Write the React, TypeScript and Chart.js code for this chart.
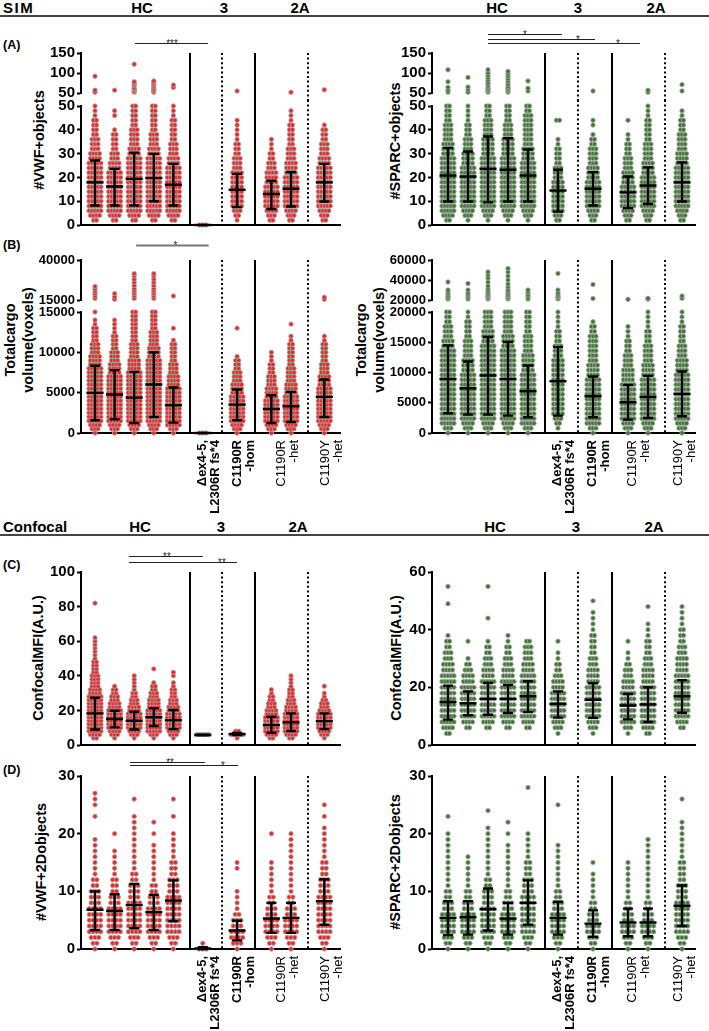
import React, { useEffect, useRef } from "react";
import { Chart, registerables } from "chart.js";

Chart.register(...registerables);

const FONT = "'Liberation Sans', Arial, Helvetica, sans-serif";
Chart.defaults.font.family = FONT;
const RED = "rgb(238, 38, 38)";
const GREEN = "rgb(58, 120, 46)";
const RIM = "rgba(165, 165, 165, 0.95)";

// ---------------- categories & labels ----------------
const categories = ["HC1", "HC2", "HC3", "HC4", "HC5", "Δex4-5, L2306R fs*4", "C1190R -hom", "C1190R -het a", "C1190R -het b", "C1190Y -het"];
const xTickLabels: string[][] = [["Δex4-5,", "L2306R fs*4"], ["C1190R", "-hom"], ["C1190R", "-het"], ["C1190Y", "-het"]];
const xTickBold = [true, true, false, false];
const groupHeaders = ["HC", "3", "2A"];

// ---------------- SIM: #VWF+ objects (counts of dots per 2-unit bin, from 0) ----------------
const simObjStep = 2;
const simVwfObjBins = [
  [0,2,4,5,5,5,5,5,5,5,5,5,5,5,4,4,3,3,3,2,2,2,2,1,1,1],
  [0,2,4,5,5,5,5,5,5,5,5,5,4,4,3,3,2,2,2,2,1,0,0,1,1],
  [0,2,4,5,5,5,5,5,5,5,5,5,5,5,5,4,4,3,3,3,3,2,2,2,2,2],
  [0,2,4,5,5,5,5,5,5,5,5,5,5,5,5,4,4,3,3,3,2,2,2,2,2,2],
  [0,2,4,5,5,5,5,5,5,5,5,5,5,4,4,3,3,3,2,2,2,2,2,1,1,1],
  [3],
  [0,1,2,3,4,4,4,4,4,4,4,4,3,3,3,2,2,2,1,1,1,1,1],
  [0,2,3,4,5,5,5,5,5,4,4,4,3,3,2,2,1,1,1],
  [0,2,3,4,5,5,5,5,5,5,5,4,4,4,3,3,3,2,2,2,2,2,1,1,1],
  [0,2,3,4,5,5,5,5,5,5,5,5,5,4,4,3,3,3,2,2,2,1],
];
const simVwfObjHigh = [[52,57,92],[57],[52,54,57,60,63,68,72,75,78,122],[52,55,58,62,66,70,73,77,80],[64,70],[],[55],[],[52],[58]];
const simVwfObjMean = [17.9,16.2,19.4,19.7,16.9,0,14.8,13.0,15.2,17.9];
const simVwfObjHi = [27.1,23.6,30.4,29.9,25.7,0,21.5,18.6,22.3,25.7];
const simVwfObjLo = [8.2,8.2,8.2,10.0,8.2,0,7.5,6.7,7.8,9.9];

// ---------------- SIM: #SPARC+ objects ----------------
const simSparcObjBins = [
  [0,2,4,5,5,5,5,5,5,5,5,5,5,5,5,4,4,4,3,3,3,3,2,2,2,2],
  [0,1,3,4,5,5,5,5,5,5,5,5,5,4,4,4,3,3,3,2,2,2,1,1,1,1],
  [0,1,3,4,5,5,5,5,5,5,5,5,5,5,5,4,4,4,4,3,3,3,3,2,2,2],
  [0,1,3,4,5,5,5,5,5,5,5,5,5,5,5,4,4,4,4,3,3,3,2,2,2,2],
  [0,1,3,4,5,5,5,5,5,5,5,5,5,5,4,4,4,3,3,3,3,3,3,3,2,2],
  [0,2,3,4,4,4,4,4,4,4,3,3,3,2,2,2,2,1,1,0,0,0,2],
  [0,2,3,4,5,5,5,5,5,5,4,4,4,3,3,3,3,2,2,1,0,1,1],
  [0,2,3,4,5,5,5,5,5,4,4,4,3,3,3,2,2,2,1,1,0,0,1],
  [0,2,3,4,5,5,5,5,5,5,5,4,4,4,3,3,3,3,2,2,2,2,2,1,1,1],
  [0,2,3,4,5,5,5,5,5,5,5,5,5,4,4,4,3,3,3,3,2,2,2,1,1],
];
const simSparcObjHigh = [[52,57,64,78,108],[52,58,65,89],[52,55,58,62,66,70,75,82,88,94,100,108],[52,55,58,62,66,72,78,85,92,98,104],[55,62,80],[],[55],[],[52,57],[55,71]];
const simSparcObjMean = [20.8,20.4,23.5,23.2,20.8,14.5,15.2,13.7,16.6,17.9];
const simSparcObjHi = [32.4,30.9,37.2,36.5,31.7,23.2,22.2,20.4,24.2,26.3];
const simSparcObjLo = [9.9,9.9,9.5,9.9,9.9,5.6,8.2,7.1,8.8,9.9];

// ---------------- SIM: VWF total cargo volume (500-voxel bins) ----------------
const simVwfVolStep = 500;
const simVwfVolBins = [
  [1,3,4,5,5,5,5,5,5,5,5,5,5,5,5,5,5,4,4,4,3,3,3,2,2,2,2,1,1,0,1],
  [1,3,4,5,5,5,5,5,5,5,5,5,5,5,5,4,4,4,3,3,3,2,2,2,2,1,1,1,1],
  [1,3,4,5,5,5,5,5,5,5,5,5,5,5,5,5,4,4,4,3,3,3,3,2,2,2,2,2,2,2,2],
  [1,3,4,5,5,5,5,5,5,5,5,5,5,5,5,5,5,5,5,4,4,4,3,3,3,3,2,2,2,2,2],
  [1,3,5,5,5,5,5,5,5,5,5,5,4,4,4,3,3,3,2,2,2,2,2,1,0,0,1],
  [3],
  [1,3,4,5,5,5,5,5,5,5,4,4,4,3,3,3,2,2,2,1,0,0,0,0,0,0,1],
  [1,3,4,5,5,5,5,5,5,4,4,4,3,3,3,2,2,2,1,1,1],
  [1,3,4,5,5,5,5,5,5,5,4,4,4,3,3,3,3,2,2,2,2,2,2,1,1,0,0,1],
  [1,3,4,5,5,5,5,5,5,5,5,5,4,4,4,3,3,3,2,2,2,2,2,1,1],
];
const simVwfVolHigh = [
  [16000,17500,19000,20500,22000,23500],
  [15500,17000,19000],
  [16000,17500,19000,20500,22000,24000,26000,28000,30000,31500],
  [16000,17500,19000,20500,22000,24000,26000,28000,30000,31500],
  [17500],[],[],[],[],[15400,16700],
];
const simVwfVolMean = [4970,4770,4390,6010,3440,0,3520,2980,3320,4480];
const simVwfVolHi = [8330,7790,7580,9990,5640,0,5390,4680,5100,6630];
const simVwfVolLo = [1575,1700,1240,1990,1280,0,1575,1240,1370,1990];

// ---------------- SIM: SPARC total cargo volume (800-voxel bins) ----------------
const simSparcVolStep = 800;
const simSparcVolBins = [
  [1,3,5,5,5,5,5,5,5,5,5,5,5,5,5,5,5,5,4,4,3,3,3,2,2,2],
  [1,3,4,5,5,5,5,5,5,5,5,5,5,4,4,4,3,3,3,3,2,2,2,2,1,1],
  [1,3,4,5,5,5,5,5,5,5,5,5,5,5,5,5,5,5,5,4,4,4,3,3,3,3],
  [1,3,4,5,5,5,5,5,5,5,5,5,5,5,5,5,5,5,4,4,4,3,3,3,3,3],
  [1,3,5,5,5,5,5,5,5,5,5,5,5,4,4,4,4,3,3,3,3,2,2,2,2,2],
  [0,1,2,3,4,4,4,4,4,4,4,4,4,4,4,4,3,3,3,2,2,2,1,1,1,1],
  [1,3,5,5,5,5,5,5,5,5,5,5,4,4,4,3,3,3,3,3,3,2,2,1],
  [1,3,4,5,5,5,5,5,5,5,5,4,4,4,3,3,3,2,2,2,1,1,1],
  [1,3,4,5,5,5,5,5,5,5,5,5,4,4,4,3,3,3,3,2,2,2,1,1,1,1],
  [1,3,4,5,5,5,5,5,5,5,5,5,5,4,4,4,3,3,3,2,2,2,2,1,1,1],
];
const simSparcVolHigh = [
  [21000,22500,24000,26000,28000,30000,38000],
  [21000,23000,25000,27000,30000,36500],
  [21000,22000,23000,24000,25500,27000,29000,31000,34000,38000,42000,45000,48000],
  [21000,22000,23000,24500,26000,28000,30000,33000,36000,40000,44000,48000,51500],
  [21000,23000,25000,27500,30000],
  [21000,22000,23500,25000,27000,30000,46500],
  [21500,35500],[20700],[20700,21700],[21700,24000],
];
const simSparcVolMean = [8950,7400,9500,8950,6900,8560,6080,5080,5970,6460];
const simSparcVolHi = [14480,11820,15860,15030,11160,14200,9340,7960,9450,10170];
const simSparcVolLo = [3260,3040,3040,2870,2600,2870,2600,2210,2490,2760];

// ---------------- Confocal: VWF MFI (2-unit bins) ----------------
const confMfiStep = 2;
const confVwfMfiBins = [
  [0,0,2,4,5,5,5,5,5,5,5,5,5,5,5,4,4,3,3,3,3,2,2,2,2,1,1,1,1,1,1,1],
  [0,0,1,3,4,5,5,5,5,5,5,4,4,3,3,2,2,1],
  [0,0,1,3,4,5,5,5,5,5,4,4,3,3,2,2,1,1,1,1,1],
  [0,0,1,3,5,5,5,5,5,5,5,4,4,4,3,3,2,2,1,0,0,0,1],
  [0,0,1,3,4,5,5,5,5,5,4,4,3,3,2,2,2,1,1,0,1,1],
  [0,0,0,5],
  [0,0,1,5,2],
  [0,0,2,4,5,5,5,5,5,4,4,3,3,2,2,1,1],
  [0,0,2,4,5,5,5,5,5,5,4,4,3,3,2,2,2,1,1,1,1],
  [0,0,1,3,4,5,5,5,5,5,4,3,3,2,1,1,0,1],
];
const confVwfMfiExtra = [[82],[],[],[],[],[],[],[],[],[]];
const confVwfMfiMean = [18.3,15.0,14.0,16.0,14.4,5.8,6.3,11.5,13.1,13.8];
const confVwfMfiHi = [27.3,19.8,19.2,21.2,20.2,6.0,6.9,16.3,18.3,18.3];
const confVwfMfiLo = [9.0,10.2,9.0,11.0,9.2,5.6,5.8,7.1,8.1,9.2];

// ---------------- Confocal: SPARC MFI ----------------
const confSparcMfiBins = [
  [0,0,2,4,5,5,5,5,5,5,5,5,5,4,4,3,3,2,2,1],
  [0,0,0,2,4,5,5,5,5,5,5,4,4,3,2,1,0,0,1],
  [0,0,0,2,4,5,5,5,5,5,5,5,4,4,3,3,2,2,1],
  [0,0,0,2,4,5,5,5,5,5,5,5,4,4,3,3,2,2,1,1],
  [0,0,0,2,4,5,5,5,5,5,5,5,5,4,4,3,3,3,2],
  [0,0,1,3,4,5,5,5,5,5,4,4,3,2,2,1,1,0,1],
  [0,0,1,3,4,5,5,5,5,5,5,4,4,4,3,3,2,2,2,2,1,1,1,1,0,1],
  [0,0,1,3,5,5,5,5,5,5,4,4,3,3,2,1,1,0,1],
  [0,0,2,4,5,5,5,5,5,5,5,4,4,4,3,3,2,2,2,1,1,1,0,0,1],
  [0,0,0,2,4,5,5,5,5,5,5,5,5,4,4,4,3,3,2,2,2,1,1,1,1],
];
const confSparcMfiExtra = [[49,55],[],[44,55],[],[],[],[],[],[],[]];
const confSparcMfiMean = [14.9,14.5,16.0,16.0,16.9,14.3,15.7,13.7,14.1,16.9];
const confSparcMfiHi = [20.6,18.6,21.5,20.8,22.1,18.6,21.4,17.7,20.0,22.5];
const confSparcMfiLo = [8.8,10.3,10.5,11.1,11.4,9.5,9.4,8.9,8.0,11.2];

// ---------------- Confocal: #VWF+ 2D objects (one bin per integer) ----------------
const conf2dStep = 1;
const confVwf2dBins = [
  [1,2,3,4,4,4,4,4,3,3,3,2,2,1,1,1,1,1,1,1,0,0,0,1,0,1,1,1],
  [1,2,3,4,4,4,4,4,3,3,2,2,2,1,1,1,1,1,0,0,1],
  [1,2,3,4,4,4,4,4,4,3,3,3,2,2,1,1,1,1,1,1,1,1,1,1,0,0,1],
  [1,2,3,4,4,4,4,4,3,3,2,2,1,1,1,1,1,1,1,0,1,0,1],
  [1,2,3,4,4,4,4,4,4,4,3,3,3,2,2,2,1,1,1,1,1,0,0,1,0,0,1],
  [3,1],
  [1,3,4,4,3,3,2,1,1,1,1,0,0,0,1,1],
  [1,2,3,4,4,4,3,3,2,2,1,1,1,1,1,1,0,0,0,0,1],
  [1,2,3,4,4,4,3,3,2,2,1,1,1,1,1,1,1,1,1,1,1],
  [1,2,3,4,4,4,4,4,4,4,3,3,3,2,2,2,1,1,1,1,1,1,0,1,0,1],
];
const confVwf2dMean = [6.8,6.6,7.6,6.4,8.4,0.1,3.2,5.3,5.4,8.3];
const confVwf2dHi = [10.0,9.5,11.3,9.4,11.9,0.3,4.9,8.0,8.0,12.1];
const confVwf2dLo = [3.3,3.3,3.6,3.3,4.8,0,1.5,2.8,2.8,4.2];

// ---------------- Confocal: #SPARC+ 2D objects ----------------
const confSparc2dBins = [
  [1,2,3,4,4,4,4,3,3,2,2,1,1,1,1,1,1,1,1,1,1,0,0,1],
  [1,2,3,4,4,4,4,3,3,2,2,1,1,1,1,1,1],
  [1,2,3,4,4,4,4,4,3,3,3,2,2,1,1,1,1,1,1,1,1,1,0,0,1],
  [1,2,3,4,4,4,4,3,3,2,2,1,1,1,1,1,1,1,1,0,1,0,1],
  [1,2,3,4,4,4,4,4,4,4,3,3,3,2,2,2,1,1,1,1,1,0,0,0,0,0,0,0,1],
  [1,2,3,4,4,4,4,3,3,2,2,1,1,1,1,1,1,1,1,0,0,0,0,0,0,1],
  [1,2,3,4,4,3,3,2,2,1,1,1,1,1,0,1],
  [1,2,3,4,4,3,3,2,2,1,1,1,1,1,1,1],
  [1,2,3,4,4,3,3,2,2,1,1,1,1,1,1,1,1,1,1,1],
  [1,2,3,4,4,4,4,4,4,3,3,3,2,2,2,2,1,1,1,1,1,1,1,0,0,0,1],
];
const confSparc2dMean = [5.4,5.5,6.9,5.3,8.0,5.4,4.4,4.6,4.6,7.5];
const confSparc2dHi = [8.3,8.3,10.5,8.0,11.9,8.2,6.7,7.0,7.0,11.0];
const confSparc2dLo = [2.4,2.5,3.2,2.5,4.2,2.5,2.1,2.2,2.2,4.0];

// ---------------- layout (positions only) ----------------
const catPos = [1, 2, 3, 4, 5, 6.5, 8.25, 10, 11, 12.7];
const solidDividers = [5.85, 9.18];
const dottedDividers = [7.5, 11.85];

const COL_L = { left: 0, width: 350, axisX: 81, plotRight: 340, xMin: 0.286, xMax: 13.5, labelTicks: [6.5, 8.25, 10.5, 12.75] };
const COL_R = { left: 350, width: 359, axisX: 432, plotRight: 695, xMin: 0.2, xMax: 13.35, labelTicks: [6.45, 8.2, 10.2, 12.5] };

const ROW_A_TOP = { top: 25, plotTop: 53, plotBottom: 93, bottom: 100, x: "none" };
const ROW_A_BOT = { top: 100, plotTop: 106, plotBottom: 225, bottom: 232, x: "line" };
const ROW_B_TOP = { top: 232, plotTop: 260, plotBottom: 300, bottom: 306, x: "none" };
const ROW_B_BOT = { top: 306, plotTop: 312, plotBottom: 433, bottom: 535, x: "labels" };
const ROW_C = { top: 545, plotTop: 572, plotBottom: 745, bottom: 752, x: "line" };
const ROW_D = { top: 748, plotTop: 776, plotBottom: 949, bottom: 1031, x: "labels" };

const unitPx = (col: any) => (col.plotRight - col.axisX) / (col.xMax - col.xMin);

function swarmPoints(bins: number[][], step: number, dxPx: number, col: any, extra?: number[][]) {
  const dx = dxPx / unitPx(col);
  const pts: { x: number; y: number }[] = [];
  bins.forEach((counts, c) => {
    counts.forEach((n, i) => {
      for (let k = 0; k < n; k++) pts.push({ x: catPos[c] + (k - (n - 1) / 2) * dx, y: i * step });
    });
    if (extra) extra[c].forEach((v) => pts.push({ x: catPos[c], y: v }));
  });
  return pts;
}
function highPoints(high: number[][]) {
  const pts: { x: number; y: number }[] = [];
  high.forEach((vals, c) => vals.forEach((v) => pts.push({ x: catPos[c], y: v })));
  return pts;
}
const range = (a: number, b: number, s: number) => {
  const out: number[] = [];
  for (let v = a; v <= b + 1e-9; v += s) out.push(v);
  return out;
};

type Sig = { from: number; to: number; star: number; off: number; text: string; color?: string; width?: number };
type Spec = {
  id: string; col: any; row: any; yMin: number; yMax: number; yTicks: number[]; tickSize?: number;
  points: { x: number; y: number }[]; color: string;
  err?: { mean: number[]; lo: number[]; hi: number[] };
  extendTop?: boolean; extendBottom?: boolean; sig?: Sig[];
};

const specs: Spec[] = [
  // A left
  { id: "AL1", col: COL_L, row: ROW_A_TOP, yMin: 50, yMax: 150, yTicks: [50, 100, 150], color: RED,
    points: highPoints(simVwfObjHigh), extendBottom: true,
    sig: [{ from: 3.04, to: 6.77, star: 4.93, off: 10, text: "***" }] },
  { id: "AL2", col: COL_L, row: ROW_A_BOT, yMin: 0, yMax: 50, yTicks: range(0, 50, 10), color: RED,
    points: swarmPoints(simVwfObjBins, simObjStep, 3, COL_L), extendTop: true,
    err: { mean: simVwfObjMean, lo: simVwfObjLo, hi: simVwfObjHi } },
  // A right
  { id: "AR1", col: COL_R, row: ROW_A_TOP, yMin: 50, yMax: 150, yTicks: [50, 100, 150], color: GREEN,
    points: highPoints(simSparcObjHigh), extendBottom: true,
    sig: [
      { from: 3.0, to: 6.7, star: 4.85, off: 19, text: "*" },
      { from: 3.0, to: 8.35, star: 7.5, off: 14, text: "*" },
      { from: 3.0, to: 10.6, star: 9.5, off: 10, text: "*" },
    ] },
  { id: "AR2", col: COL_R, row: ROW_A_BOT, yMin: 0, yMax: 50, yTicks: range(0, 50, 10), color: GREEN,
    points: swarmPoints(simSparcObjBins, simObjStep, 3, COL_R), extendTop: true,
    err: { mean: simSparcObjMean, lo: simSparcObjLo, hi: simSparcObjHi } },
  // B left
  { id: "BL1", col: COL_L, row: ROW_B_TOP, yMin: 15000, yMax: 40000, yTicks: [15000, 40000], tickSize: 13, color: RED,
    points: highPoints(simVwfVolHigh), extendBottom: true,
    sig: [{ from: 3.1, to: 6.8, star: 5.1, off: 15, text: "*", color: "#777", width: 2 }] },
  { id: "BL2", col: COL_L, row: ROW_B_BOT, yMin: 0, yMax: 15000, yTicks: range(0, 15000, 5000), tickSize: 13, color: RED,
    points: swarmPoints(simVwfVolBins, simVwfVolStep, 3, COL_L), extendTop: true,
    err: { mean: simVwfVolMean, lo: simVwfVolLo, hi: simVwfVolHi } },
  // B right
  { id: "BR1", col: COL_R, row: ROW_B_TOP, yMin: 20000, yMax: 60000, yTicks: [20000, 40000, 60000], tickSize: 13, color: GREEN,
    points: highPoints(simSparcVolHigh), extendBottom: true },
  { id: "BR2", col: COL_R, row: ROW_B_BOT, yMin: 0, yMax: 20000, yTicks: range(0, 20000, 5000), tickSize: 13, color: GREEN,
    points: swarmPoints(simSparcVolBins, simSparcVolStep, 3, COL_R), extendTop: true,
    err: { mean: simSparcVolMean, lo: simSparcVolLo, hi: simSparcVolHi } },
  // C
  { id: "CL", col: COL_L, row: ROW_C, yMin: 0, yMax: 100, yTicks: range(0, 100, 20), color: RED,
    points: swarmPoints(confVwfMfiBins, confMfiStep, 3, COL_L, confVwfMfiExtra),
    err: { mean: confVwfMfiMean, lo: confVwfMfiLo, hi: confVwfMfiHi },
    sig: [
      { from: 2.73, to: 6.5, star: 4.67, off: 16, text: "**" },
      { from: 2.73, to: 8.24, star: 7.48, off: 10, text: "**" },
    ] },
  { id: "CR", col: COL_R, row: ROW_C, yMin: 0, yMax: 60, yTicks: range(0, 60, 20), color: GREEN,
    points: swarmPoints(confSparcMfiBins, confMfiStep, 3, COL_R, confSparcMfiExtra),
    err: { mean: confSparcMfiMean, lo: confSparcMfiLo, hi: confSparcMfiHi } },
  // D
  { id: "DL", col: COL_L, row: ROW_D, yMin: 0, yMax: 30, yTicks: range(0, 30, 10), color: RED,
    points: swarmPoints(confVwf2dBins, conf2dStep, 3.8, COL_L),
    err: { mean: confVwf2dMean, lo: confVwf2dLo, hi: confVwf2dHi },
    sig: [
      { from: 2.79, to: 6.6, star: 4.83, off: 14, text: "**" },
      { from: 2.79, to: 8.3, star: 7.53, off: 11, text: "*" },
    ] },
  { id: "DR", col: COL_R, row: ROW_D, yMin: 0, yMax: 30, yTicks: range(0, 30, 10), color: GREEN,
    points: swarmPoints(confSparc2dBins, conf2dStep, 3.8, COL_R),
    err: { mean: confSparc2dMean, lo: confSparc2dLo, hi: confSparc2dHi } },
];

function buildConfig(spec: Spec): any {
  const { col, row } = spec;
  const xH = row.x === "labels" ? row.bottom - row.plotBottom : row.x === "line" ? 2 : 0;
  const padTop = row.plotTop - row.top;
  const padBottom = row.bottom - row.plotBottom - xH;
  const yW = col.axisX - col.left;
  const padRight = col.left + col.width - col.plotRight;

  const overlay = {
    id: "overlay" + spec.id,
    beforeDatasetsDraw(chart: any) {
      const { ctx, chartArea: ca } = chart;
      const xs = chart.scales.x;
      const top = spec.extendTop ? 0 : ca.top;
      const bottom = spec.extendBottom ? chart.height : ca.bottom;
      ctx.save();
      ctx.strokeStyle = "#000";
      ctx.lineWidth = 2;
      solidDividers.forEach((v) => {
        const x = Math.round(xs.getPixelForValue(v));
        ctx.beginPath(); ctx.moveTo(x, top); ctx.lineTo(x, bottom); ctx.stroke();
      });
      ctx.setLineDash([2, 2.6]);
      dottedDividers.forEach((v) => {
        const x = Math.round(xs.getPixelForValue(v));
        ctx.beginPath(); ctx.moveTo(x, top); ctx.lineTo(x, bottom); ctx.stroke();
      });
      ctx.restore();
    },
    afterDatasetsDraw(chart: any) {
      if (!spec.err) return;
      const { ctx } = chart;
      const xs = chart.scales.x, ys = chart.scales.y;
      ctx.save();
      ctx.strokeStyle = "#000";
      ctx.lineWidth = 2.4;
      spec.err.mean.forEach((m, i) => {
        const x = xs.getPixelForValue(catPos[i]);
        const ym = ys.getPixelForValue(m);
        const yl = ys.getPixelForValue(spec.err!.lo[i]);
        const yh = ys.getPixelForValue(spec.err!.hi[i]);
        ctx.beginPath();
        ctx.moveTo(x, yh); ctx.lineTo(x, yl);
        ctx.moveTo(x - 5, yh); ctx.lineTo(x + 5, yh);
        ctx.moveTo(x - 5, yl); ctx.lineTo(x + 5, yl);
        ctx.moveTo(x - 8.5, ym); ctx.lineTo(x + 8.5, ym);
        ctx.stroke();
      });
      ctx.restore();
    },
    afterDraw(chart: any) {
      if (!spec.sig) return;
      const { ctx, chartArea: ca } = chart;
      const xs = chart.scales.x;
      ctx.save();
      spec.sig.forEach((s) => {
        const y = ca.top - s.off;
        ctx.strokeStyle = s.color || "#222";
        ctx.lineWidth = s.width || 1;
        ctx.beginPath();
        ctx.moveTo(xs.getPixelForValue(s.from), y + 0.5);
        ctx.lineTo(xs.getPixelForValue(s.to), y + 0.5);
        ctx.stroke();
        ctx.fillStyle = "#222";
        ctx.font = "10px " + FONT;
        ctx.textAlign = "center";
        ctx.textBaseline = "alphabetic";
        ctx.fillText(s.text, xs.getPixelForValue(s.star), y + 4);
      });
      ctx.restore();
    },
  };

  const xScale: any = {
    type: "linear", min: col.xMin, max: col.xMax, display: row.x !== "none",
    grid: { display: false, drawTicks: false },
    border: { display: true, color: "#000", width: 2 },
    afterFit: (s: any) => { s.height = xH; s.paddingLeft = 0; s.paddingRight = 0; },
  };
  if (row.x === "labels") {
    xScale.afterBuildTicks = (s: any) => { s.ticks = col.labelTicks.map((v: number) => ({ value: v })); };
    xScale.ticks = {
      autoSkip: false, minRotation: 90, maxRotation: 90, padding: 7, color: "#000",
      font: (ctx: any) => ({ family: FONT, size: 13, weight: xTickBold[ctx.index] ? "bold" : "normal", lineHeight: 1.0 }),
      callback: (_v: any, i: number) => xTickLabels[i],
    };
  } else {
    xScale.ticks = { display: false };
  }

  return {
    type: "scatter",
    data: {
      datasets: [{
        label: categories.join(" / "),
        data: spec.points,
        backgroundColor: spec.color,
        borderColor: RIM,
        borderWidth: 0.9,
        pointRadius: 2.2,
        pointHoverRadius: 2.2,
        clip: false,
      }],
    },
    options: {
      responsive: false, animation: false, devicePixelRatio: 1, events: [],
      layout: { padding: { left: 0, right: padRight, top: padTop, bottom: padBottom } },
      plugins: { legend: { display: false }, tooltip: { enabled: false }, title: { display: false } },
      scales: {
        x: xScale,
        y: {
          type: "linear", min: spec.yMin, max: spec.yMax,
          grid: { display: true, drawOnChartArea: false, drawTicks: true, tickLength: 4, tickWidth: 2, tickColor: "#000" },
          border: { display: true, color: "#000", width: 2 },
          ticks: { autoSkip: false, color: "#000", padding: 2, font: { family: FONT, size: spec.tickSize || 15, weight: "bold" }, callback: (v: any) => String(v) },
          afterBuildTicks: (s: any) => { s.ticks = spec.yTicks.map((v) => ({ value: v })); },
          afterFit: (s: any) => { s.width = yW; s.paddingTop = 0; s.paddingBottom = 0; },
        },
      },
    },
    plugins: [overlay],
  };
}

function ChartBox({ spec }: { spec: Spec }) {
  const ref = useRef<HTMLCanvasElement>(null);
  const w = spec.col.width;
  const h = spec.row.bottom - spec.row.top;
  useEffect(() => {
    const chart = new Chart(ref.current as HTMLCanvasElement, buildConfig(spec));
    return () => chart.destroy();
  }, []);
  return (
    <canvas ref={ref} width={w} height={h}
      style={{ position: "absolute", left: spec.col.left, top: spec.row.top, width: w, height: h }} />
  );
}

// ---------------- text layout ----------------
const headerRows = [
  { y: 8, rule: 15, title: "SIM", centers: [142, 224, 300, 497, 578, 656] },
  { y: 527, rule: 534, title: "Confocal", centers: [140, 221, 298, 495, 576, 654] },
];
const panelLetters = [["(A)", 45], ["(B)", 245], ["(C)", 565], ["(D)", 770]];
const yTitles: { lines: string[]; x: number; y: number; lh?: number }[] = [
  { lines: ["#VWF+objects"], x: 39, y: 140 },
  { lines: ["#SPARC+objects"], x: 395, y: 141 },
  { lines: ["Totalcargo", "volume(voxels)"], x: 19, y: 340, lh: 18 },
  { lines: ["Totalcargo", "volume(voxels)"], x: 370, y: 340, lh: 18 },
  { lines: ["ConfocalMFI(A.U.)"], x: 38, y: 658 },
  { lines: ["ConfocalMFI(A.U.)"], x: 396, y: 658 },
  { lines: ["#VWF+2Dobjects"], x: 41, y: 862 },
  { lines: ["#SPARC+2Dobjects"], x: 395, y: 862 },
];

export default function App() {
  return (
    <div style={{ position: "absolute", left: 0, top: 0, width: 709, height: 1031, overflow: "hidden", background: "#fff", fontFamily: FONT, color: "#000" }}>
      {headerRows.map((r, ri) => (
        <React.Fragment key={"h" + ri}>
          <div style={{ position: "absolute", left: 0, top: r.rule, width: 709, height: 2, background: "#444" }} />
          <div style={{ position: "absolute", left: 3, top: r.y, transform: "translateY(-50%)", fontWeight: "bold", fontSize: 15, letterSpacing: ri === 0 ? 1.5 : 0, lineHeight: "16px", whiteSpace: "nowrap" }}>{r.title}</div>
          {r.centers.map((cx, i) => (
            <div key={i} style={{ position: "absolute", left: cx, top: r.y, transform: "translate(-50%,-50%)", fontWeight: "bold", fontSize: 15, lineHeight: "16px", whiteSpace: "nowrap" }}>
              {groupHeaders[i % 3]}
            </div>
          ))}
        </React.Fragment>
      ))}
      {panelLetters.map(([t, y]) => (
        <div key={t as string} style={{ position: "absolute", left: 3, top: y as number, transform: "translateY(-50%)", fontWeight: "bold", fontSize: 12.5, lineHeight: "14px" }}>{t}</div>
      ))}
      {yTitles.map((t, i) => (
        <div key={"yt" + i} style={{ position: "absolute", left: t.x, top: t.y, transform: "translate(-50%,-50%) rotate(-90deg)", fontWeight: "bold", fontSize: 14.5, lineHeight: (t.lh || 20) + "px", textAlign: "center", whiteSpace: "nowrap" }}>
          {t.lines.map((l, j) => <div key={j}>{l}</div>)}
        </div>
      ))}
      {specs.map((s) => <ChartBox key={s.id} spec={s} />)}
    </div>
  );
}
